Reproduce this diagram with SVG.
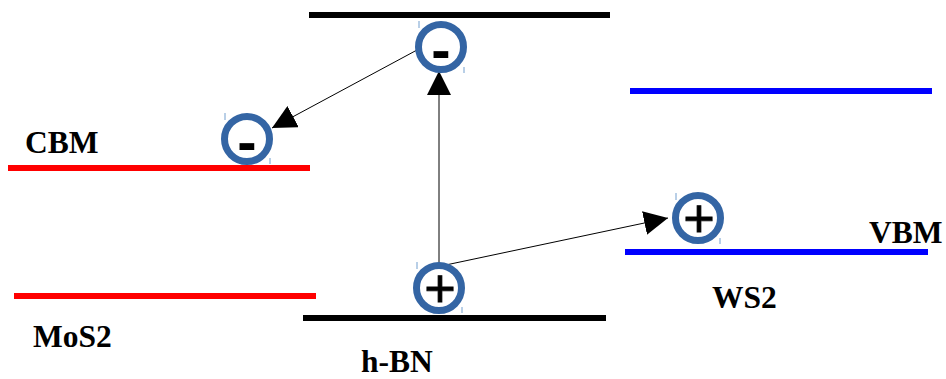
<svg xmlns="http://www.w3.org/2000/svg" width="946" height="379" viewBox="0 0 946 379">
<defs>
<style>
.lbl{font-family:"Liberation Serif","Times New Roman",serif;font-weight:bold;font-size:31.5px;fill:#000}
.ring{fill:#fff;stroke:#3465a4;stroke-width:7}
.tick{stroke:#729fcf;stroke-width:1}
.sym{font-family:"Liberation Sans",Arial,sans-serif;fill:#000;text-anchor:middle}
.plus{stroke:#000;stroke-width:0.8}
.conn{stroke:#000;stroke-width:1;fill:none}
</style>
<marker id="ah" markerWidth="24" markerHeight="24" viewBox="0 0 24 24" refX="24" refY="12" orient="auto" markerUnits="userSpaceOnUse">
<path d="M0,0 L24,12 L0,24 Z" fill="#000"/>
</marker>
</defs>
<rect width="946" height="379" fill="#fff"/>
<g id="levels">
<line x1="309" y1="15" x2="610" y2="15" stroke="#000" stroke-width="6"/>
<line x1="303" y1="318" x2="606" y2="318" stroke="#000" stroke-width="6"/>
<line x1="8" y1="168" x2="310" y2="168" stroke="#ff0000" stroke-width="6"/>
<line x1="14" y1="296" x2="316" y2="296" stroke="#ff0000" stroke-width="6"/>
<line x1="630" y1="91" x2="932" y2="91" stroke="#0000ff" stroke-width="6"/>
<line x1="625" y1="252" x2="928" y2="252" stroke="#0000ff" stroke-width="6"/>
</g>
<g id="connectors">
<line class="conn" x1="439" y1="264" x2="439" y2="71" marker-end="url(#ah)"/>
<line class="conn" x1="417" y1="50" x2="272" y2="128" marker-end="url(#ah)"/>
<line class="conn" x1="441" y1="266" x2="668" y2="218" marker-end="url(#ah)"/>
</g>
<g id="e-top">
<circle class="ring" cx="441" cy="47" r="22.5"/>
<text class="sym" x="441" y="70" font-size="58" font-weight="bold">-</text>
<line class="tick" x1="419" y1="21" x2="419" y2="28"/><line class="tick" x1="464" y1="67" x2="464" y2="73"/>
</g>
<g id="e-cbm">
<circle class="ring" cx="247" cy="139" r="22.5"/>
<text class="sym" x="247" y="162" font-size="58" font-weight="bold">-</text>
<line class="tick" x1="225" y1="113" x2="225" y2="120"/><line class="tick" x1="270" y1="158" x2="270" y2="164"/>
</g>
<g id="h-bottom">
<circle class="ring" cx="439" cy="288" r="22.5"/>
<text class="sym plus" x="440" y="307" font-size="54">+</text>
<line class="tick" x1="417" y1="262" x2="417" y2="269"/><line class="tick" x1="462" y1="307" x2="462" y2="313"/>
</g>
<g id="h-vbm">
<circle class="ring" cx="698" cy="218" r="22.5"/>
<text class="sym plus" x="699" y="237" font-size="54">+</text>
<line class="tick" x1="676" y1="193" x2="676" y2="200"/><line class="tick" x1="720" y1="238" x2="720" y2="244"/>
</g>
<g id="labels">
<text class="lbl" x="25" y="153">CBM</text>
<text class="lbl" x="33" y="347">MoS2</text>
<text class="lbl" x="361" y="372">h-BN</text>
<text class="lbl" x="712" y="308">WS2</text>
<text class="lbl" x="869" y="243">VBM</text>
</g>
</svg>
